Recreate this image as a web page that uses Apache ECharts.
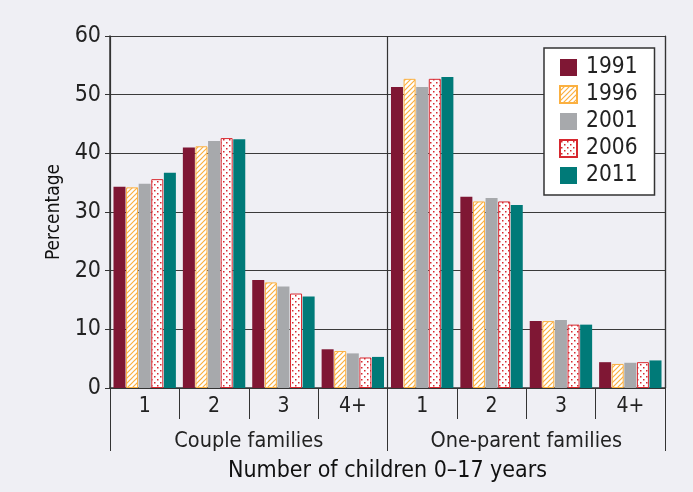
<!DOCTYPE html>
<html>
<head>
<meta charset="utf-8">
<script src="https://cdn.jsdelivr.net/npm/echarts@6/dist/echarts.min.js"></script>
<style>
html,body{margin:0;padding:0;background:#EFEFF4;}
#c{width:693px;height:492px;}
</style>
</head>
<body>
<div id="c"></div>
<script>
var categories = ['1','2','3','4+','1','2','3','4+'];
var groups = ['Couple families','One-parent families'];
var years = ['1991','1996','2001','2006','2011'];
var v1991 = [34.3, 41.0, 18.4, 6.6, 51.3, 32.6, 11.4, 4.4];
var v1996 = [34.2, 41.2, 18.0, 6.3, 52.7, 31.8, 11.4, 4.1];
var v2001 = [34.8, 42.1, 17.3, 5.9, 51.3, 32.4, 11.6, 4.3];
var v2006 = [35.6, 42.6, 16.1, 5.2, 52.7, 31.8, 10.8, 4.4];
var v2011 = [36.7, 42.4, 15.6, 5.3, 53.0, 31.2, 10.8, 4.7];
var yTicks = [0, 10, 20, 30, 40, 50, 60];

var FONT = "'DejaVu Sans Condensed','Liberation Sans Narrow','Liberation Sans',sans-serif";

function hatch() {
  var c = document.createElement('canvas'); c.width = 5; c.height = 5;
  var g = c.getContext('2d');
  g.fillStyle = '#ffffff'; g.fillRect(0,0,5,5);
  g.strokeStyle = '#FBB040'; g.lineWidth = 1.2;
  g.beginPath();
  g.moveTo(-1,6); g.lineTo(6,-1);
  g.moveTo(-1,1); g.lineTo(1,-1);
  g.moveTo(4,6); g.lineTo(6,4);
  g.stroke();
  return c;
}
function dots() {
  var c = document.createElement('canvas'); c.width = 6; c.height = 6;
  var g = c.getContext('2d');
  g.fillStyle = '#ffffff'; g.fillRect(0,0,6,6);
  g.fillStyle = '#D7282F';
  g.fillRect(1,1,1.5,1.5);
  g.fillRect(4,4,1.5,1.5);
  return c;
}

var styles = [
  {color:'#7F1734'},
  {color:{image:hatch(), repeat:'repeat'}, borderColor:'#FBB040', borderWidth:1},
  {color:'#A7A9AC'},
  {color:{image:dots(), repeat:'repeat'}, borderColor:'#D7282F', borderWidth:1},
  {color:'#007A78'}
];
var data = [v1991, v1996, v2001, v2006, v2011];

var chart = echarts.init(document.getElementById('c'), null, {renderer:'canvas'});
chart.setOption({
  backgroundColor:'#EFEFF4',
  animation:false,
  textStyle:{fontFamily:FONT},
  grid:{left:110, right:28, top:36, bottom:104},
  legend:{
    orient:'vertical', left:544, top:48,
    data:years, icon:'rect',
    backgroundColor:'#ffffff', borderColor:'#333', borderWidth:1.5,
    padding:[7,17,7,15],
    itemWidth:17, itemHeight:17, itemGap:2,
    textStyle:{fontSize:22.5, color:'#222', fontFamily:FONT, lineHeight:25, padding:[0,0,0,4]}
  },
  xAxis:[
    {type:'category', data:categories, position:'bottom',
     axisLine:{show:true, lineStyle:{color:'#333', width:1.5}},
     axisTick:{show:true, interval:0, length:31, lineStyle:{color:'#333'}},
     axisLabel:{interval:0, margin:8, fontSize:21, color:'#222', fontFamily:FONT},
     splitLine:{show:false}},
    {type:'category', data:groups, position:'bottom',
     axisLine:{show:false},
     axisTick:{show:true, interval:0, length:63, lineStyle:{color:'#333'}},
     axisLabel:{interval:0, margin:42, fontSize:21.5, color:'#222', fontFamily:FONT},
     splitLine:{show:true, interval:0, lineStyle:{color:'#333', width:1.2}},
     name:'Number of children 0\u201317 years', nameLocation:'middle', nameGap:72,
     nameTextStyle:{fontSize:23, color:'#111', fontFamily:FONT}}
  ],
  yAxis:[{
    type:'value', min:0, max:60, interval:10,
    axisLine:{show:true, lineStyle:{color:'#333', width:1.5}},
    axisTick:{show:true, length:5, lineStyle:{color:'#333'}},
    axisLabel:{fontSize:23, color:'#222', margin:9, fontFamily:FONT,
      formatter:function(v){return yTicks.indexOf(v)>=0 ? String(v) : '';}},
    splitLine:{show:true, lineStyle:{color:'#3a3a3a', width:1.2}},
    name:'Percentage', nameLocation:'middle', nameGap:44, nameRotate:90,
    nameTextStyle:{fontSize:19, color:'#111', fontFamily:FONT}
  },{
    type:'value', min:0, max:60, interval:10, position:'right',
    axisLine:{show:true, lineStyle:{color:'#333', width:1.2}},
    axisTick:{show:false}, axisLabel:{show:false}, splitLine:{show:false}
  }],
  series: years.map(function(y,i){
    return {name:y, type:'bar', xAxisIndex:0, yAxisIndex:0, data:data[i], barWidth:12, barGap:'5%',
      itemStyle:styles[i]};
  })
});
</script>
</body>
</html>
